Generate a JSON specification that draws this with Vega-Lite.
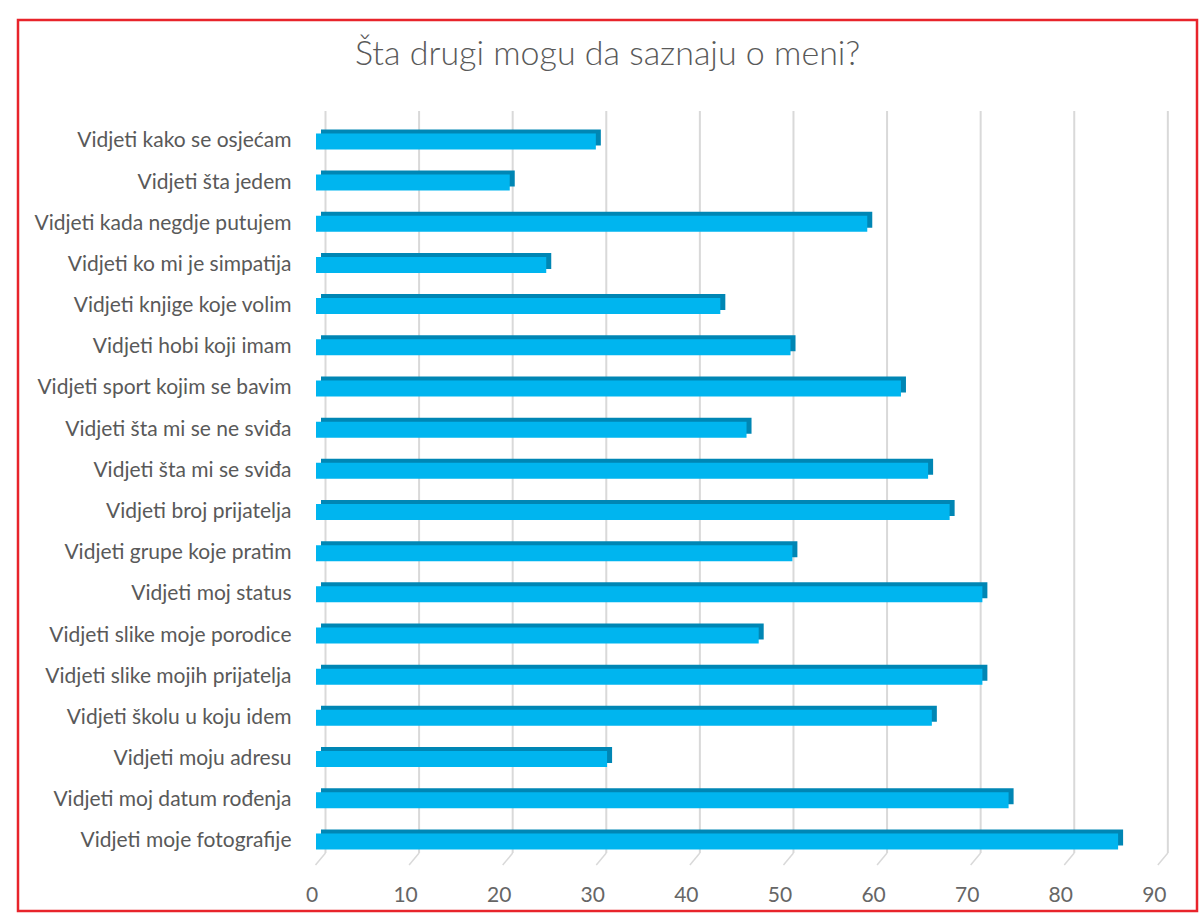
{
  "$schema": "https://vega.github.io/schema/vega-lite/v6.json",
  "width": 1179,
  "height": 891,
  "autosize": {"type": "none"},
  "padding": {"left": 18, "top": 20, "right": 6, "bottom": 6},
  "background": "white",
  "title": {
    "text": "Šta drugi mogu da saznaju o meni?",
    "anchor": "middle",
    "frame": "group",
    "offset": -52,
    "font": "Lato",
    "fontSize": 34,
    "fontWeight": 300,
    "color": "#595959"
  },
  "datasets": {
    "answers": [
      {"label": "Vidjeti kako se osjećam", "value": 29.9},
      {"label": "Vidjeti šta jedem", "value": 20.7},
      {"label": "Vidjeti kada negdje putujem", "value": 58.9},
      {"label": "Vidjeti ko mi je simpatija", "value": 24.6},
      {"label": "Vidjeti knjige koje volim", "value": 43.2},
      {"label": "Vidjeti hobi koji imam", "value": 50.7},
      {"label": "Vidjeti sport kojim se bavim", "value": 62.5},
      {"label": "Vidjeti šta mi se ne sviđa", "value": 46.0},
      {"label": "Vidjeti šta mi se sviđa", "value": 65.4},
      {"label": "Vidjeti broj prijatelja", "value": 67.7},
      {"label": "Vidjeti grupe koje pratim", "value": 50.9},
      {"label": "Vidjeti moj status", "value": 71.2},
      {"label": "Vidjeti slike moje porodice", "value": 47.3},
      {"label": "Vidjeti slike mojih prijatelja", "value": 71.2},
      {"label": "Vidjeti školu u koju idem", "value": 65.8},
      {"label": "Vidjeti moju adresu", "value": 31.1},
      {"label": "Vidjeti moj datum rođenja", "value": 74.0},
      {"label": "Vidjeti moje fotografije", "value": 85.7}
    ],
    "grid": [
      {"v": 0}, {"v": 10}, {"v": 20}, {"v": 30}, {"v": 40},
      {"v": 50}, {"v": 60}, {"v": 70}, {"v": 80}, {"v": 90}
    ]
  },
  "layer": [
    {
      "data": {"name": "grid"},
      "mark": {"type": "rule", "color": "#D9D9D9", "strokeWidth": 2, "xOffset": 9.5, "yOffset": -30.4, "y2Offset": 11.7},
      "encoding": {
        "x": {"field": "v", "type": "quantitative", "title": null, "scale": {"domain": [-31.84, 94.13], "nice": false, "zero": false}, "axis": {"values": [0, 10, 20, 30, 40, 50, 60, 70, 80, 90]}},
        "y": {"datum": "Vidjeti kako se osjećam", "type": "nominal", "title": null},
        "y2": {"datum": "Vidjeti moje fotografije"}
      }
    },
    {
      "data": {"name": "grid"},
      "mark": {"type": "rule", "color": "#D9D9D9", "strokeWidth": 1.5, "xOffset": 9.5, "x2Offset": -0.5, "yOffset": 11.7, "y2Offset": 23.7},
      "encoding": {
        "x": {"field": "v", "type": "quantitative", "title": null},
        "x2": {"field": "v"},
        "y": {"datum": "Vidjeti moje fotografije", "type": "nominal", "title": null},
        "y2": {"datum": "Vidjeti moje fotografije"}
      }
    },
    {
      "data": {"name": "answers"},
      "mark": {"type": "bar", "color": "#0086B4", "xOffset": 5, "x2Offset": 5, "yOffset": -4},
      "encoding": {
        "x": {"field": "value", "type": "quantitative", "title": null},
        "y": {"field": "label", "type": "nominal", "title": null}
      }
    },
    {
      "data": {"name": "answers"},
      "mark": {"type": "bar", "color": "#00B5EF"},
      "encoding": {
        "x": {"field": "value", "type": "quantitative", "title": null},
        "y": {
          "field": "label",
          "type": "nominal",
          "title": null,
          "scale": {
            "domain": [
              "Vidjeti kako se osjećam", "Vidjeti šta jedem", "Vidjeti kada negdje putujem",
              "Vidjeti ko mi je simpatija", "Vidjeti knjige koje volim", "Vidjeti hobi koji imam",
              "Vidjeti sport kojim se bavim", "Vidjeti šta mi se ne sviđa", "Vidjeti šta mi se sviđa",
              "Vidjeti broj prijatelja", "Vidjeti grupe koje pratim", "Vidjeti moj status",
              "Vidjeti slike moje porodice", "Vidjeti slike mojih prijatelja", "Vidjeti školu u koju idem",
              "Vidjeti moju adresu", "Vidjeti moj datum rođenja", "Vidjeti moje fotografije"
            ],
            "range": [113.4, 829.4],
            "paddingInner": 0.6115,
            "paddingOuter": 0,
            "round": false
          }
        }
      }
    }
  ],
  "config": {
    "view": {"stroke": "#E8242B", "strokeWidth": 2.5},
    "axisX": {
      "grid": false,
      "domain": false,
      "ticks": false,
      "tickSize": 0,
      "labelPadding": 0,
      "offset": -27,
      "labelOffset": -4.5,
      "labelFont": "Lato",
      "labelFontSize": 21,
      "labelFontWeight": "normal",
      "labelColor": "#666666"
    },
    "axisY": {
      "grid": false,
      "domain": false,
      "ticks": false,
      "tickSize": 0,
      "labelPadding": 10,
      "offset": -283,
      "labelFont": "Lato",
      "labelFontSize": 21,
      "labelFontWeight": "normal",
      "labelColor": "#595959",
      "labelLimit": 400
    }
  }
}
